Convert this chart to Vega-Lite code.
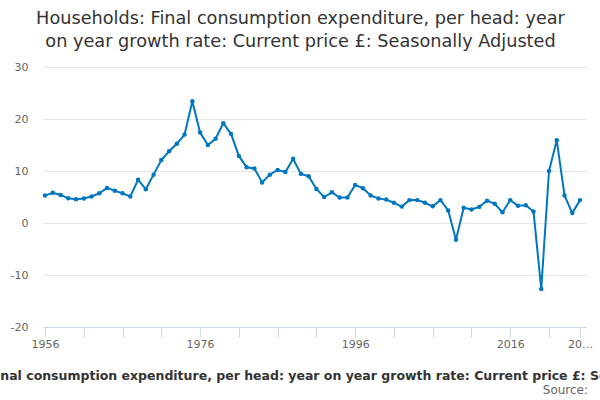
{
  "$schema": "https://vega.github.io/schema/vega-lite/v6.json",
  "autosize": {"type": "none"},
  "width": 543,
  "height": 260,
  "padding": {"left": 43, "top": 67, "right": 14, "bottom": 73},
  "background": "white",
  "config": {
    "font": "DejaVu Sans",
    "view": {"stroke": null}
  },
  "title": {
    "text": ["Households: Final consumption expenditure, per head: year", "on year growth rate: Current price £: Seasonally Adjusted"],
    "fontSize": 17.7,
    "fontWeight": "normal",
    "color": "#333333",
    "anchor": "middle",
    "dx": -14,
    "offset": 10,
    "lineHeight": 23
  },
  "data": {
    "values": [
      {"year": 1956, "growth": 5.27},
      {"year": 1957, "growth": 5.8},
      {"year": 1958, "growth": 5.4},
      {"year": 1959, "growth": 4.75},
      {"year": 1960, "growth": 4.56},
      {"year": 1961, "growth": 4.7},
      {"year": 1962, "growth": 5.1},
      {"year": 1963, "growth": 5.7},
      {"year": 1964, "growth": 6.75},
      {"year": 1965, "growth": 6.2},
      {"year": 1966, "growth": 5.7},
      {"year": 1967, "growth": 5.1},
      {"year": 1968, "growth": 8.3},
      {"year": 1969, "growth": 6.5},
      {"year": 1970, "growth": 9.3},
      {"year": 1971, "growth": 12.1},
      {"year": 1972, "growth": 13.8},
      {"year": 1973, "growth": 15.25},
      {"year": 1974, "growth": 17.0},
      {"year": 1975, "growth": 23.4},
      {"year": 1976, "growth": 17.4},
      {"year": 1977, "growth": 15.0},
      {"year": 1978, "growth": 16.2},
      {"year": 1979, "growth": 19.2},
      {"year": 1980, "growth": 17.1},
      {"year": 1981, "growth": 12.9},
      {"year": 1982, "growth": 10.7},
      {"year": 1983, "growth": 10.5},
      {"year": 1984, "growth": 7.8},
      {"year": 1985, "growth": 9.3},
      {"year": 1986, "growth": 10.2},
      {"year": 1987, "growth": 9.8},
      {"year": 1988, "growth": 12.35},
      {"year": 1989, "growth": 9.45},
      {"year": 1990, "growth": 9.0},
      {"year": 1991, "growth": 6.55},
      {"year": 1992, "growth": 5.0},
      {"year": 1993, "growth": 5.9},
      {"year": 1994, "growth": 4.9},
      {"year": 1995, "growth": 4.9},
      {"year": 1996, "growth": 7.3},
      {"year": 1997, "growth": 6.7},
      {"year": 1998, "growth": 5.3},
      {"year": 1999, "growth": 4.7},
      {"year": 2000, "growth": 4.5},
      {"year": 2001, "growth": 3.9},
      {"year": 2002, "growth": 3.15},
      {"year": 2003, "growth": 4.4},
      {"year": 2004, "growth": 4.4},
      {"year": 2005, "growth": 3.9},
      {"year": 2006, "growth": 3.2},
      {"year": 2007, "growth": 4.4},
      {"year": 2008, "growth": 2.4},
      {"year": 2009, "growth": -3.2},
      {"year": 2010, "growth": 2.95},
      {"year": 2011, "growth": 2.6},
      {"year": 2012, "growth": 3.1},
      {"year": 2013, "growth": 4.3},
      {"year": 2014, "growth": 3.7},
      {"year": 2015, "growth": 2.05},
      {"year": 2016, "growth": 4.4},
      {"year": 2017, "growth": 3.3},
      {"year": 2018, "growth": 3.4},
      {"year": 2019, "growth": 2.2},
      {"year": 2020, "growth": -12.7},
      {"year": 2021, "growth": 10.0},
      {"year": 2022, "growth": 15.9},
      {"year": 2023, "growth": 5.3},
      {"year": 2024, "growth": 1.9},
      {"year": 2025, "growth": 4.4}
    ]
  },
  "encoding": {
    "x": {
      "field": "year",
      "type": "quantitative",
      "title": "Households: Final consumption expenditure, per head: year on year growth rate: Current price £: Seasonally Adjusted",
      "scale": {"domain": [1955.74, 2025.77], "nice": false, "zero": false},
      "axis": {
        "values": [1956, 1961, 1966, 1971, 1976, 1981, 1986, 1991, 1996, 2001, 2006, 2011, 2016, 2021, 2025],
        "labelExpr": "datum.value == 2025 ? '20…' : (datum.value == 1956 || datum.value == 1976 || datum.value == 1996 || datum.value == 2016) ? toString(datum.value) : ''",
        "grid": false,
        "domainColor": "#ccd6eb",
        "tickColor": "#ccd6eb",
        "tickSize": 10,
        "labelColor": "#666666",
        "labelFontSize": 11,
        "labelPadding": 1,
        "labelFlush": false,
        "labelOverlap": false,
        "titleFontSize": 12.5,
        "titleFontWeight": "bold",
        "titleColor": "#333333",
        "titlePadding": 20,
        "titleX": 271
      }
    },
    "y": {
      "field": "growth",
      "type": "quantitative",
      "title": null,
      "scale": {"domain": [-20, 30], "nice": false},
      "axis": {
        "values": [-20, -10, 0, 10, 20, 30],
        "labelExpr": "toString(datum.value)",
        "domain": false,
        "ticks": false,
        "gridColor": "#e6e6e6",
        "labelColor": "#666666",
        "labelFontSize": 11,
        "labelPadding": 15
      }
    }
  },
  "layer": [
    {
      "mark": {
        "type": "line",
        "color": "#0077c0",
        "strokeWidth": 2,
        "point": {"filled": true, "size": 20, "color": "#0077c0"}
      }
    },
    {
      "transform": [{"filter": "datum.year == 2025"}],
      "mark": {
        "type": "text",
        "align": "right",
        "baseline": "middle",
        "dx": 8,
        "dy": 63,
        "fontSize": 12,
        "color": "#666666"
      },
      "encoding": {
        "y": {"datum": -20},
        "text": {"value": "Source:"}
      }
    }
  ]
}
